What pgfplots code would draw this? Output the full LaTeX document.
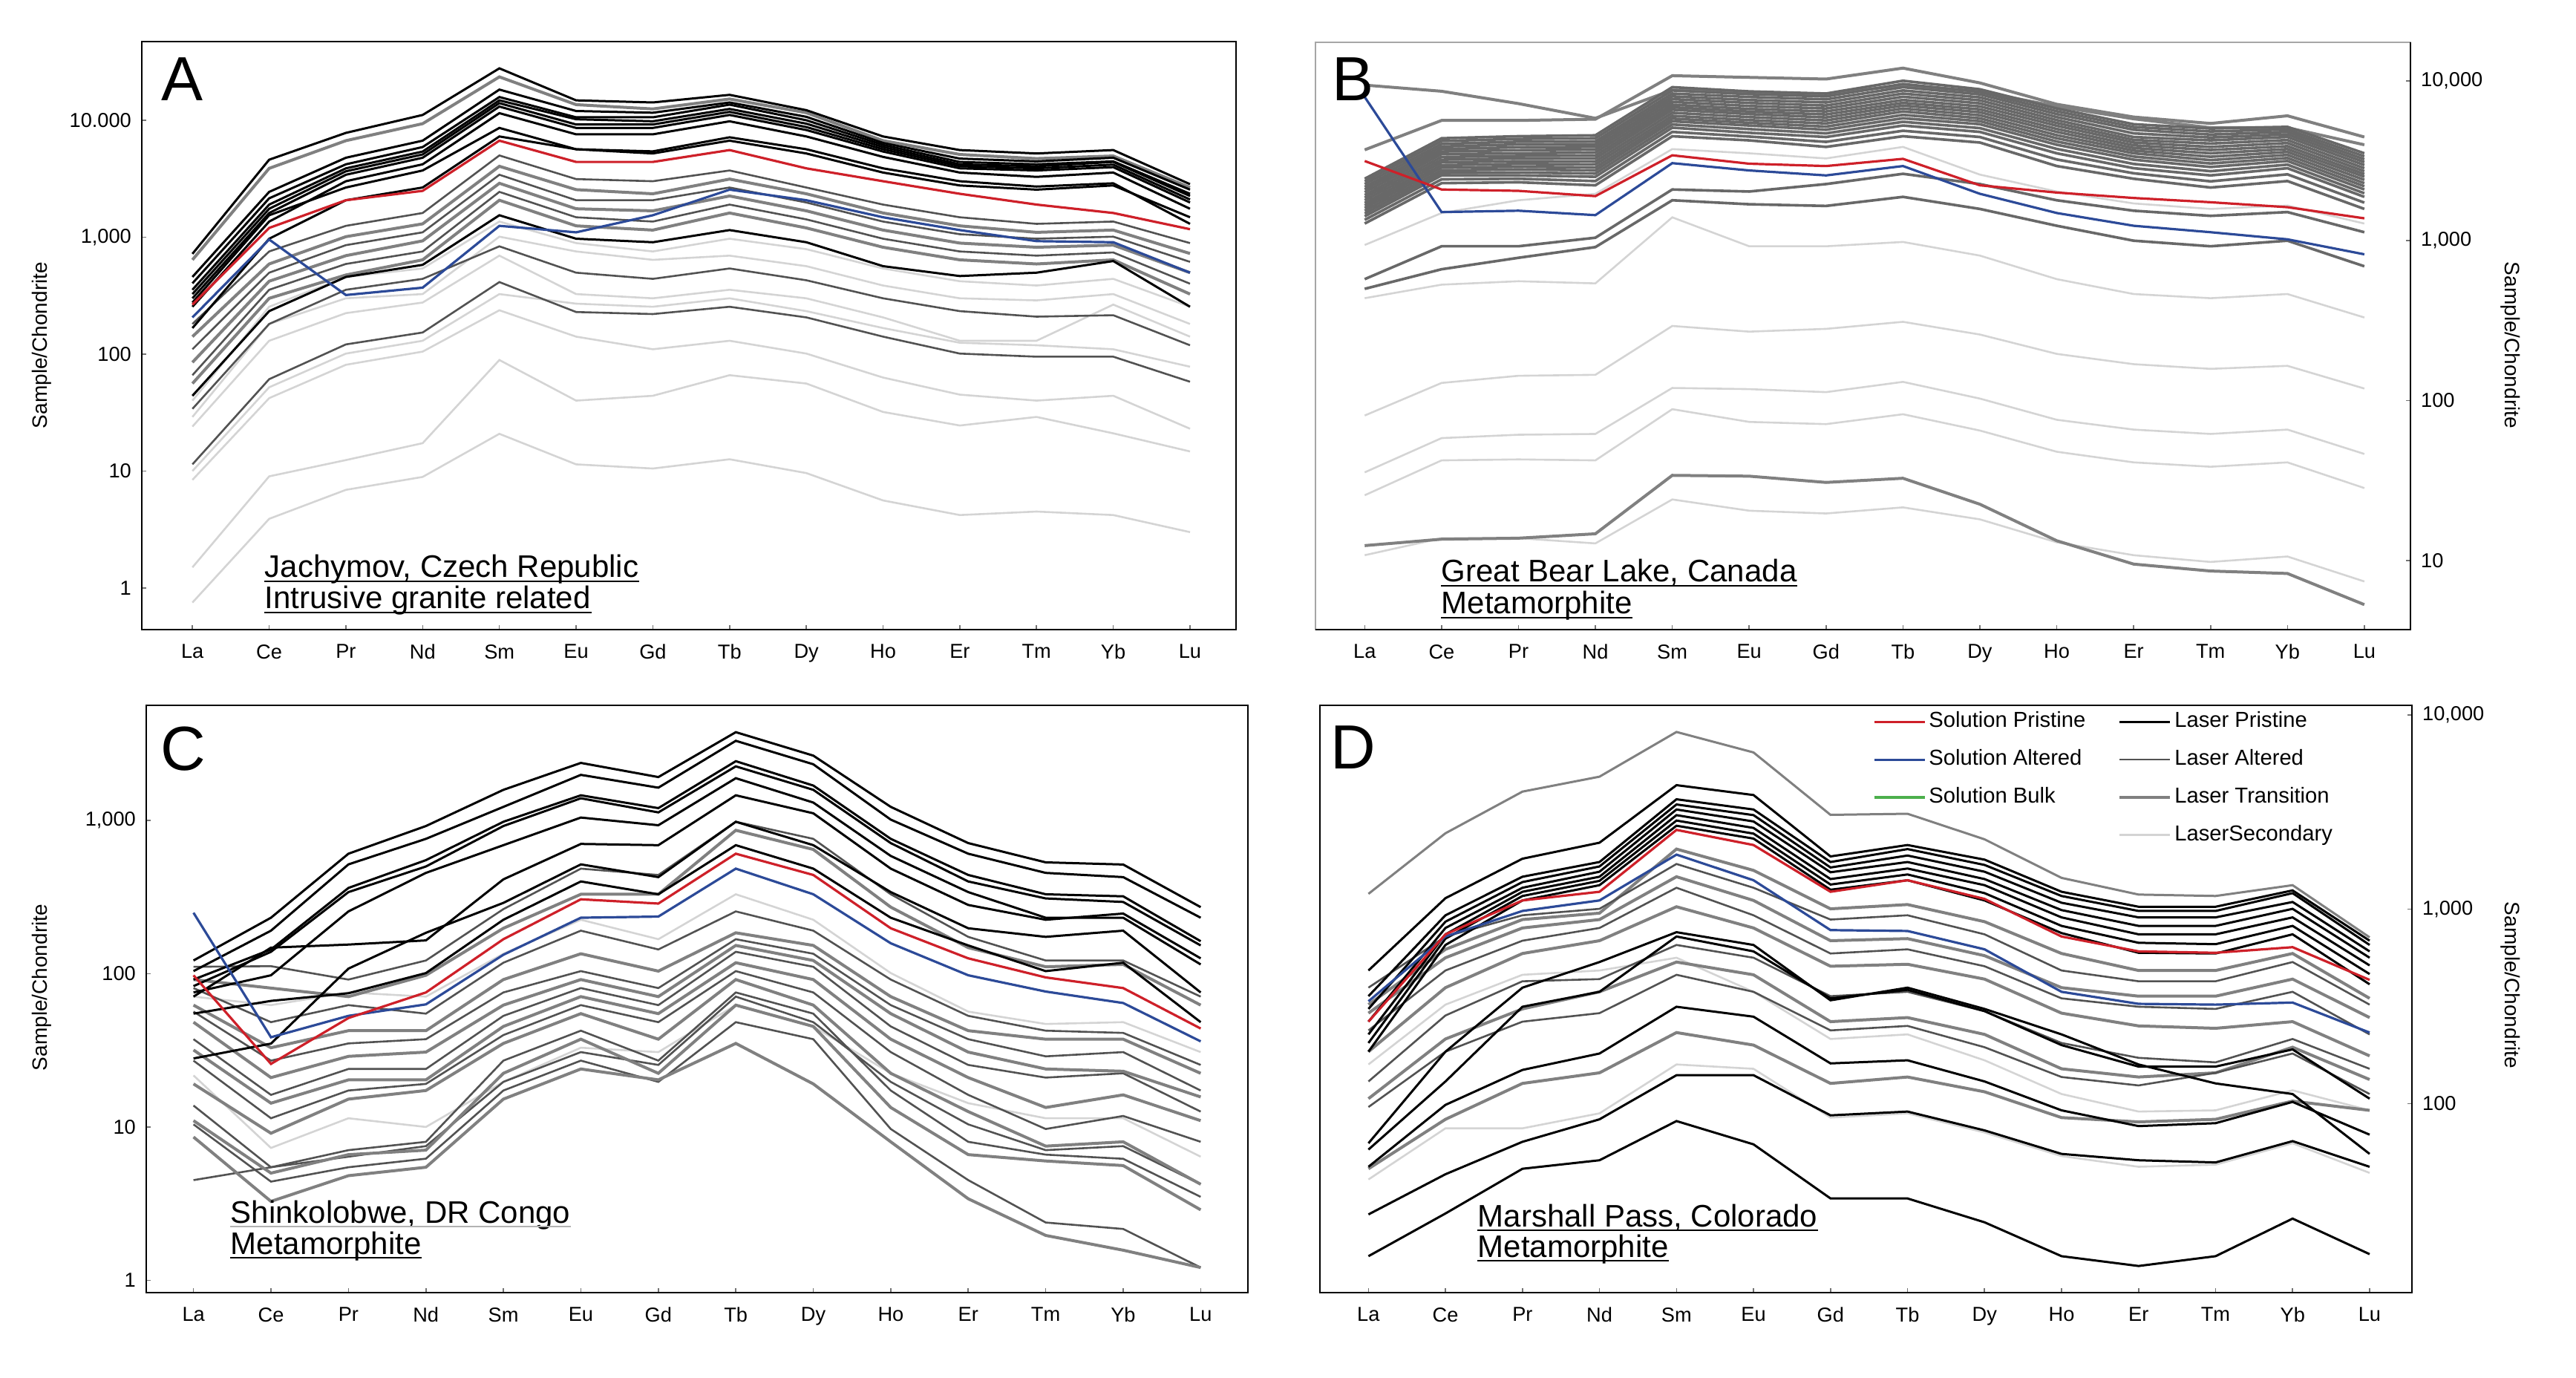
\documentclass[border=0pt]{standalone}
\usepackage{pgfplots}
\pgfplotsset{compat=1.18}
\usepackage{pgfplotstable}
\usepackage{fontspec}
\setmainfont{Liberation Sans}

\definecolor{solpri}{RGB}{206,32,41}
\definecolor{solalt}{RGB}{44,74,152}
\definecolor{solbulk}{RGB}{76,175,76}
\definecolor{lasalt}{RGB}{82,82,82}
\definecolor{lastra}{RGB}{128,128,128}
\definecolor{lassec}{RGB}{212,212,212}
\definecolor{bandgray}{RGB}{104,104,104}

\pgfplotsset{every axis/.append style={
    scale only axis, anchor=south west,
    xtick={0,...,13},
    xticklabels={La,Ce,Pr,Nd,Sm,Eu,Gd,Tb,Dy,Ho,Er,Tm,Yb,Lu},
    xtick pos=left,
    tick align=inside, major tick length=1.6pt,
    tick style={black!55, line width=0.4pt},
    tick label style={font=\fontsize{6.8}{8}\selectfont},
    xticklabel style={yshift=-1.5pt},
    axis line style={line width=0.7pt},
}}
\tikzset{
  lasPri/.style={black, line width=0.75pt},
  lasAlt/.style={lasalt, line width=0.65pt},
  lasTra/.style={lastra, line width=1.0pt},
  lasSec/.style={lassec, line width=0.65pt},
  lasBand/.style={bandgray, line width=0.9pt},
  solPri/.style={solpri, line width=0.8pt},
  solAlt/.style={solalt, line width=0.8pt},
  solBulk/.style={solbulk, line width=0.8pt},
}

% Panel A: Jachymov (one row per sample, chondrite normalised)
\pgfplotstableread{
id  La   Ce   Pr   Nd    Sm    Eu    Gd    Tb    Dy    Ho   Er   Tm   Yb   Lu
s1  0.75 3.9  6.9  8.9   20.8  11.4  10.5  12.6  9.6   5.6  4.2  4.5  4.2  3.0
s2  1.5  9.0  12.4 17.3  89    40    44    66    56    32   24.5 29   21   14.7
s3  8.4  42   81   105   237   141   110   130   101   63   45   40   44   23
s4  10   52   101  130   326   270   254   300   233   167  125  119  110  78
s5  24   130  224  276   695   326   300   355   300   206  130  130  265  141
s6  29   181  300  326   1010  755   640   695   565   386  300  288  326  181
s7  40   254  457  540   1360  890   755   970   790   540  420  386  440  254
g8  11.4 61   121  153   413   229   220   254   206   141  101  95   95   58
g7  34   181  355  440   835   497   440   540   428   300  233  209  215  119
g6  56   300  475  640   2070  1250  1150  1610  1200  820  640  590  640  326
g5  66   355  590  755   2440  1480  1360  1900  1420  970  755  695  740  400
g4  85   420  695  930   2890  1750  1680  2250  1680  1150 890  820  855  497
g3  110  497  855  1100  3420  2070  2070  2660  1980  1360 1060 970  1010 615
g2  141  590  1010 1300  4040  2550  2350  3140  2350  1610 1250 1100 1150 725
g1  181  755  1250 1610  5000  3140  3010  3720  2660  1900 1480 1300 1360 890
g0  640  3880 6690 9350  23500 13600 12500 15200 11600 6690 5100 4700 4950 2660
a7  44   233  457  580   1540  970   905   1150  905   565  465  497  625  254
a8  167  970  2070 2660  7270  5650  5200  6690  5200  3570 2770 2550 2770 1480
a6  276  1540 2660 3720  8600  5650  5420  7150  5650  3880 3010 2710 2890 1300
a5  254  1360 3010 4200  11500 7580  7580  9800  7270  4860 3570 3280 3570 1750
a4  300  1610 3420 4780  13100 8600  8600  11100 8250  5400 3880 3720 3970 1980
a10 326  1750 3660 5100  14000 9200  9200  11800 8750  5650 4040 3880 4170 2100
a3  355  1900 3880 5400  14800 10200 9800  12500 9350  5900 4200 4040 4400 2250
a9  403  2150 4200 5900  15800 10600 10600 13600 10000 6150 4400 4200 4450 2350
a2  457  2440 4780 6690  18300 12000 11600 14200 10700 6400 4700 4450 4780 2550
a1  720  4600 7800 11100 27800 14800 14200 16500 12200 7270 5560 5200 5560 2840
sa  206  955  320  370   1250  1100  1540  2550  2070  1480 1150 925  905  497
sp  265  1200 2070 2490  6690  4400  4400  5560  3880  3010 2350 1900 1610 1170
}\rawA
\pgfplotstabletranspose[colnames from=id]{\tabA}{\rawA}

% Panel B: Great Bear Lake
\pgfplotstableread{
id  La   Ce   Pr   Nd   Sm    Eu    Gd    Tb    Dy   Ho   Er   Tm   Yb   Lu
s0  940  1490 1790 1965 3740  3520  3270  3860  2590 2030 1710 1580 1660 1280
s1  437  531  558  541  1400  923   923   982   807  575  464  437  464  331
s2  80.7 129  143  145  293   270   281   311   259  196  169  158  165  119
s3  35.6 58.3 61.2 61.9 120   118   113   131   103  75.9 65.9 61.9 65.9 46.4
s4  25.6 42.3 42.9 42.3 88.4  73.6  71.3  82.2  65   47.9 41.1 38.6 41.1 28.4
s5  10.8 13.8 13.8 12.8 24.1  20.5  19.7  21.5  18.1 13.0 10.8 9.8  10.6 7.4
d3  12.4 13.6 13.8 14.7 34.1  33.7  30.8  32.7  22.5 13.3 9.5  8.6  8.3  5.3
t1  9400 8600 7200 5830 8750  8450  8220  9400  8580 6920 5780 5090 5090 3980
t2  3700 5650 5650 5750 10760 10500 10250 12000 9700 7130 5935 5410 6040 4450
b1  2440 4370 4500 4560 9120  8580  8320  10000 8850 6710 5350 5030 5150 3520
c1  2350 4200 4330 4370 8700  8250  7980  9550  8520 6450 5140 4820 4960 3370
b2  2260 4030 4160 4180 8320  7920  7650  9120  8220 6190 4940 4610 4790 3230
c2  2170 3880 4000 4020 7990  7580  7320  8700  7880 5930 4690 4420 4620 3100
b3  2090 3740 3840 3860 7680  7270  7000  8320  7550 5680 4450 4240 4450 2970
c3  2010 3610 3680 3710 7380  6960  6710  7950  7230 5450 4270 4050 4260 2840
b4  1930 3480 3520 3560 7090  6670  6430  7590  6920 5230 4110 3860 4080 2720
c4  1860 3340 3390 3410 6830  6420  6160  7280  6630 5000 3950 3690 3900 2610
b5  1790 3210 3270 3270 6590  6190  5900  7000  6360 4790 3800 3520 3740 2510
c5  1720 3090 3140 3130 6310  5930  5650  6710  6090 4570 3660 3350 3590 2400
b6  1660 2970 3020 3000 6040  5680  5410  6430  5830 4370 3520 3190 3440 2290
c6  1600 2860 2900 2870 5800  5460  5170  6120  5590 4170 3360 3040 3290 2190
b7  1540 2750 2790 2750 5580  5250  4940  5830  5350 3980 3210 2890 3150 2090
c7  1480 2650 2670 2630 5330  4990  4690  5540  5060 3750 3020 2720 2990 1980
b8  1420 2560 2560 2510 5090  4730  4450  5250  4790 3520 2840 2560 2840 1880
c8  1350 2420 2440 2360 4790  4480  4150  4870  4450 3220 2640 2350 2600 1730
b9  1280 2290 2320 2220 4500  4240  3860  4500  4110 2930 2440 2150 2360 1580
d1  575  923  923  1044 2090  2030  2260  2620  2260 1790 1540 1430 1510 1130
d2  500  663  782  912  1790  1690  1650  1880  1580 1240 1000 923  1000 692
sa  7920 1510 1540 1445 3055  2750  2560  2930  1965 1490 1240 1130 1020 822
sp  3150 2090 2050 1900 3420  3030  2930  3250  2220 2000 1850 1740 1620 1380
}\rawB
\pgfplotstabletranspose[colnames from=id]{\tabB}{\rawB}

% Panel C: Shinkolobwe
\pgfplotstableread{
id   La   Ce   Pr   Nd   Sm   Eu   Gd   Tb   Dy   Ho   Er   Tm   Yb   Lu
gl2  21.7 7.3  11.4 10.0 19.7 32.9 30.8 62.4 45.3 22.4 14.3 11.4 11.4 6.4
gl1  70.9 62.4 75.5 70.9 135  225  168  330  225  101  56.6 47   48.3 30.8
g15  4.5  5.46 6.4  7.5  19.7 30.8 25.4 70.9 48.3 19.7 10.4 7.06 7.5  4.23
g14  8.6  3.27 4.81 5.46 15.2 23.9 20.3 35.1 19.1 8.0  3.4  1.96 1.57 1.21
g13  10.4 4.4  5.46 6.21 17.3 27.1 19.7 48.3 37.4 9.7  4.5  2.38 2.16 1.21
g12  11.0 5.0  6.6  7.06 22.4 37.4 22.4 62.4 45.3 13.4 6.6  6.0  5.6  2.88
g11  13.8 5.46 7.06 8.0  27.1 42.5 27.1 75.5 54.9 17.3 8.0  6.6  6.2  3.5
g10  19.1 9.1  15.2 17.3 35.1 54.9 37.4 91.6 62.4 22.4 12.6 7.5  8.0  4.23
g9   27.1 11.4 17.3 19.1 39.8 62.4 48.3 104  75.5 30.8 16.2 9.7  11.8 8.0
g8   31.8 14.3 20.3 20.3 45.3 70.9 54.9 118  91.6 37.4 21.0 13.4 16.2 11.0
g7   37.4 16.2 23.9 23.9 53.1 80.6 62.4 139  111  45.3 25.4 21.0 22.4 12.6
g6   48.3 21.0 28.9 30.8 62.4 91.6 70.9 153  122  54.9 30.8 23.9 23.1 15.7
g5   56.6 27.1 35.1 37.4 75.5 104  80.6 168  135  62.4 37.4 28.9 30.8 17.3
g4   62.4 32.9 42.5 42.5 91.6 135  104  185  153  70.9 42.5 37.4 37.4 22.4
g3   80.6 48.3 62.4 54.9 118  191  144  255  191  91.6 53.1 42.5 41.1 25.4
g2   91.6 80.6 70.9 97.7 198  330  330  863  647  272  148  111  115  62.4
g1   111  112  91.6 122  264  485  441  981  759  330  174  122  122  70.9
c8   28   35   108  185  290  517  427  981  690  341  198  174  191  75.5
c7   54.9 66.5 74.6 101  225  400  330  690  485  232  153  104  118  48.3
c6   70.9 148  155  165  413  703  690  1460 1114 485  281  225  247  126
c5   75.5 97.7 255  455  690  1045 931  1888 1309 587  341  232  232  115
c4   83   139  341  501  920  1396 1129 2255 1585 712  400  310  294  153
c3   91.6 144  363  551  981  1460 1204 2437 1690 759  441  330  320  163
c2   104  191  517  759  1227 1985 1637 3310 2327 1013 607  455  427  232
c1   122  232  607  920  1585 2375 1920 3770 2650 1227 712  533  516  272
sa   250  38.5 53.1 63.1 133  232  236  485  330  158  97.7 76.5 64.4 36.2
sp   97.7 25.8 51.4 75.5 168  306  287  607  441  198  126  94.6 80.6 43.9
}\rawC
\pgfplotstabletranspose[colnames from=id]{\tabC}{\rawC}

% Panel D: Marshall Pass
\pgfplotstableread{
id   La   Ce   Pr   Nd   Sm   Eu   Gd   Tb   Dy   Ho   Er   Tm   Yb   Lu
ls1  40.7 74.6 74.6 89.1 159  151  84.7 89.1 71   53.7 47.3 48.5 62.5 44
ls3  159  323  460  484  563  376  215  227  167  112  91   92.3 117  92.3
top  1200 2460 4030 4810 8170 6410 3060 3100 2290 1450 1190 1170 1330 717
gD0  323  622  885  955  2040 1585 1005 1057 863  592  484  484  592  348
gD1  395  724  931  1005 1710 1290 885  931  743  484  426  426  535  323
gD2  292  563  801  885  1470 1110 689  706  577  395  357  357  437  277
gD3  238  484  689  801  1290 931  592  622  509  348  315  307  376  227
gD4  185  395  592  689  1030 801  509  521  437  292  251  244  264  176
gD5  130  284  426  437  655  563  357  376  299  205  172  163  215  151
gD6  106  215  307  376  535  460  264  277  227  151  137  144  195  133
gD7  96   185  264  292  460  376  238  251  195  137  124  144  181  112
gD8  46.2 83   127  144  232  200  127  137  115  84.7 80.5 83   103  92.3
k1   62.5 185  395  535  762  655  340  395  307  227  159  127  112  55.1
k6   58   130  315  376  724  607  348  385  299  200  155  155  190  106
k3   47.3 98.5 149  181  315  280  161  167  130  92.3 76.6 79.3 102  69.2
k4   26.9 43.3 63.6 83   140  140  87   91   72.8 55.1 51.1 49.8 64.1 47.3
k5   16.4 27.2 46.2 51.1 81.3 61.7 32.5 32.5 24.5 16.4 14.6 16.4 25.6 16.8
bD6  185  655  1110 1330 2690 2310 1260 1410 1110 754  597  592  743  411
bD5  205  706  1170 1400 2860 2450 1340 1510 1210 821  672  661  821  464
bD4  227  743  1230 1470 3050 2620 1430 1620 1330 908  743  743  908  514
bD3  264  801  1290 1560 3260 2830 1550 1750 1430 990  821  821  1005 563
bD2  307  863  1380 1660 3460 3050 1640 1890 1560 1080 908  908  1090 607
bD1  357  931  1470 1750 3680 3260 1750 2040 1690 1170 980  980  1210 655
dtop 484  1140 1820 2200 4350 3870 1870 2140 1800 1230 1030 1030 1250 689
sa   336  724  980  1110 1910 1410 781  773  622  376  326  323  331  232
sp   264  743  1110 1230 2560 2140 1230 1410 1130 724  607  597  638  433
}\rawD
\pgfplotstabletranspose[colnames from=id]{\tabD}{\rawD}

\newcommand{\ultext}[5][black]{%
  \node[anchor=base west, inner sep=0pt, font=\fontsize{10.5}{12}\selectfont] (#4) at (#2,#3) {#5};
  \draw[#1, line width=0.6pt] ([yshift=-1.3pt]#4.base west) -- ([yshift=-1.3pt]#4.base east);}

\begin{document}
\begin{tikzpicture}
\useasboundingbox (0,0) rectangle (867.5pt,463.75pt);

% ---------- A ----------
\begin{axis}[name=A, at={(47.75pt,251.75pt)}, width=368.5pt, height=198pt,
  ymode=log, yminorticks=false,
  xmin=-0.66, xmax=13.6, ymin=0.44, ymax=47100,
  ytick={1,10,100,1000,10000}, yticklabels={1,10,100,{1,000},{10.000}},
  ytick pos=left]
\pgfplotsinvokeforeach{s1,s2,s3,s4,s5,s6,s7}{\addplot[lasSec] table[x expr=\coordindex, y=#1]{\tabA};}
\pgfplotsinvokeforeach{g8,g7,g5,g3,g1}{\addplot[lasAlt] table[x expr=\coordindex, y=#1]{\tabA};}
\pgfplotsinvokeforeach{g6,g4,g2,g0}{\addplot[lasTra] table[x expr=\coordindex, y=#1]{\tabA};}
\pgfplotsinvokeforeach{a7,a8,a6,a5,a4,a10,a3,a9,a2,a1}{\addplot[lasPri] table[x expr=\coordindex, y=#1]{\tabA};}
\addplot[solAlt] table[x expr=\coordindex, y=sa]{\tabA};
\addplot[solPri] table[x expr=\coordindex, y=sp]{\tabA};
\end{axis}

% ---------- B ----------
\begin{axis}[name=B, at={(443pt,251.75pt)}, width=368.75pt, height=197.75pt,
  ymode=log, yminorticks=false,
  xmin=-0.64, xmax=13.6, ymin=3.7, ymax=17400,
  ytick={10,100,1000,10000}, yticklabels={10,100,{1,000},{10,000}},
  ytick pos=right, yticklabel pos=right,
  axis line style={line width=0.7pt, black!35}]
\pgfplotsinvokeforeach{s0,s1,s2,s3,s4,s5}{\addplot[lasSec] table[x expr=\coordindex, y=#1]{\tabB};}
\pgfplotsinvokeforeach{d3,t1,t2}{\addplot[lasTra] table[x expr=\coordindex, y=#1]{\tabB};}
\pgfplotsinvokeforeach{b1,c1,b2,c2,b3,c3,b4,c4,b5,c5,b6,c6,b7,c7,b8,c8,b9,d1,d2}{\addplot[lasBand] table[x expr=\coordindex, y=#1]{\tabB};}
\addplot[solAlt] table[x expr=\coordindex, y=sa]{\tabB};
\addplot[solPri] table[x expr=\coordindex, y=sp]{\tabB};
\end{axis}
\draw[line width=0.7pt] (B.south west) -- (B.south east) -- (B.north east);

% ---------- C ----------
\begin{axis}[name=C, at={(49.25pt,28.5pt)}, width=371pt, height=197.75pt,
  ymode=log, yminorticks=false,
  xmin=-0.61, xmax=13.61, ymin=0.83, ymax=5640,
  ytick={1,10,100,1000}, yticklabels={1,10,100,{1,000}},
  ytick pos=left]
\pgfplotsinvokeforeach{gl2,gl1}{\addplot[lasSec] table[x expr=\coordindex, y=#1]{\tabC};}
\pgfplotsinvokeforeach{g15,g13,g11,g9,g7,g5,g3,g1}{\addplot[lasAlt] table[x expr=\coordindex, y=#1]{\tabC};}
\pgfplotsinvokeforeach{g14,g12,g10,g8,g6,g4,g2}{\addplot[lasTra] table[x expr=\coordindex, y=#1]{\tabC};}
\pgfplotsinvokeforeach{c8,c7,c6,c5,c4,c3,c2,c1}{\addplot[lasPri] table[x expr=\coordindex, y=#1]{\tabC};}
\addplot[solAlt] table[x expr=\coordindex, y=sa]{\tabC};
\addplot[solPri] table[x expr=\coordindex, y=sp]{\tabC};
\end{axis}

% ---------- D ----------
\begin{axis}[name=D, at={(444.5pt,28.5pt)}, width=367.75pt, height=197.75pt,
  ymode=log, yminorticks=false,
  xmin=-0.63, xmax=13.55, ymin=10.65, ymax=11200,
  ytick={100,1000,10000}, yticklabels={100,{1,000},{10,000}},
  ytick pos=right, yticklabel pos=right,
  legend columns=2,
  legend cell align=left,
  legend image code/.code={\draw[#1] (0pt,0pt) -- (17pt,0pt);},
  legend style={draw=none, fill=none, at={(rel axis cs:0.506,0.995)}, anchor=north west,
    inner sep=0pt, font=\fontsize{7.3}{8}\selectfont, row sep=3.9pt,
    nodes={inner sep=1pt, text height=5.3pt, text depth=1.5pt},
    /tikz/every even column/.append style={column sep=10pt}}]
\addlegendimage{solPri}
\addlegendimage{lasPri}
\addlegendimage{solAlt}
\addlegendimage{lasAlt}
\addlegendimage{solBulk}
\addlegendimage{lasTra}
\addlegendimage{empty legend}
\addlegendimage{lasSec}
\legend{Solution Pristine, Laser Pristine, Solution Altered, Laser Altered, Solution Bulk, Laser Transition, \phantom{x}, LaserSecondary}
\pgfplotsinvokeforeach{ls1,ls3}{\addplot[lasSec] table[x expr=\coordindex, y=#1]{\tabD};}
\pgfplotsinvokeforeach{gD8,gD6,gD4,gD2,gD0}{\addplot[lasTra] table[x expr=\coordindex, y=#1]{\tabD};}
\addplot[lastra, line width=0.75pt] table[x expr=\coordindex, y=top]{\tabD};
\pgfplotsinvokeforeach{gD7,gD5,gD3,gD1}{\addplot[lasAlt] table[x expr=\coordindex, y=#1]{\tabD};}
\pgfplotsinvokeforeach{k5,k4,k3,k6,k1,bD6,bD5,bD4,bD3,bD2,bD1,dtop}{\addplot[lasPri] table[x expr=\coordindex, y=#1]{\tabD};}
\addplot[solAlt] table[x expr=\coordindex, y=sa]{\tabD};
\addplot[solPri] table[x expr=\coordindex, y=sp]{\tabD};
\end{axis}

% panel letters
\node[anchor=base west, inner sep=0pt, font=\fontsize{21}{21}\selectfont] at (54.25pt,429.75pt) {A};
\node[anchor=base west, inner sep=0pt, font=\fontsize{21}{21}\selectfont] at (448.5pt,429.75pt) {B};
\node[anchor=base west, inner sep=0pt, font=\fontsize{21}{21}\selectfont] at (53.8pt,204.25pt) {C};
\node[anchor=base west, inner sep=0pt, font=\fontsize{21}{21}\selectfont] at (448pt,204.75pt) {D};

% y axis titles
\node[rotate=90, font=\fontsize{7}{8}\selectfont] at (14pt,347.5pt) {Sample/Chondrite};
\node[rotate=90, font=\fontsize{7}{8}\selectfont] at (14pt,131.25pt) {Sample/Chondrite};
\node[rotate=-90, font=\fontsize{7}{8}\selectfont] at (845.5pt,347.5pt) {Sample/Chondrite};
\node[rotate=-90, font=\fontsize{7}{8}\selectfont] at (845.5pt,132pt) {Sample/Chondrite};

% locality notes
\ultext{89pt}{269.25pt}{na1}{Jachymov, Czech Republic}
\ultext{89pt}{258.75pt}{na2}{Intrusive granite related}
\ultext{485.25pt}{267.75pt}{nb1}{Great Bear Lake, Canada}
\ultext{485.25pt}{257pt}{nb2}{Metamorphite}
\ultext[black!30]{77.5pt}{52pt}{nc1}{Shinkolobwe, DR Congo}
\ultext{77.5pt}{41.5pt}{nc2}{Metamorphite}
\ultext{497.5pt}{50.75pt}{nd1}{Marshall Pass, Colorado}
\ultext{497.5pt}{40.5pt}{nd2}{Metamorphite}
\end{tikzpicture}
\end{document}
